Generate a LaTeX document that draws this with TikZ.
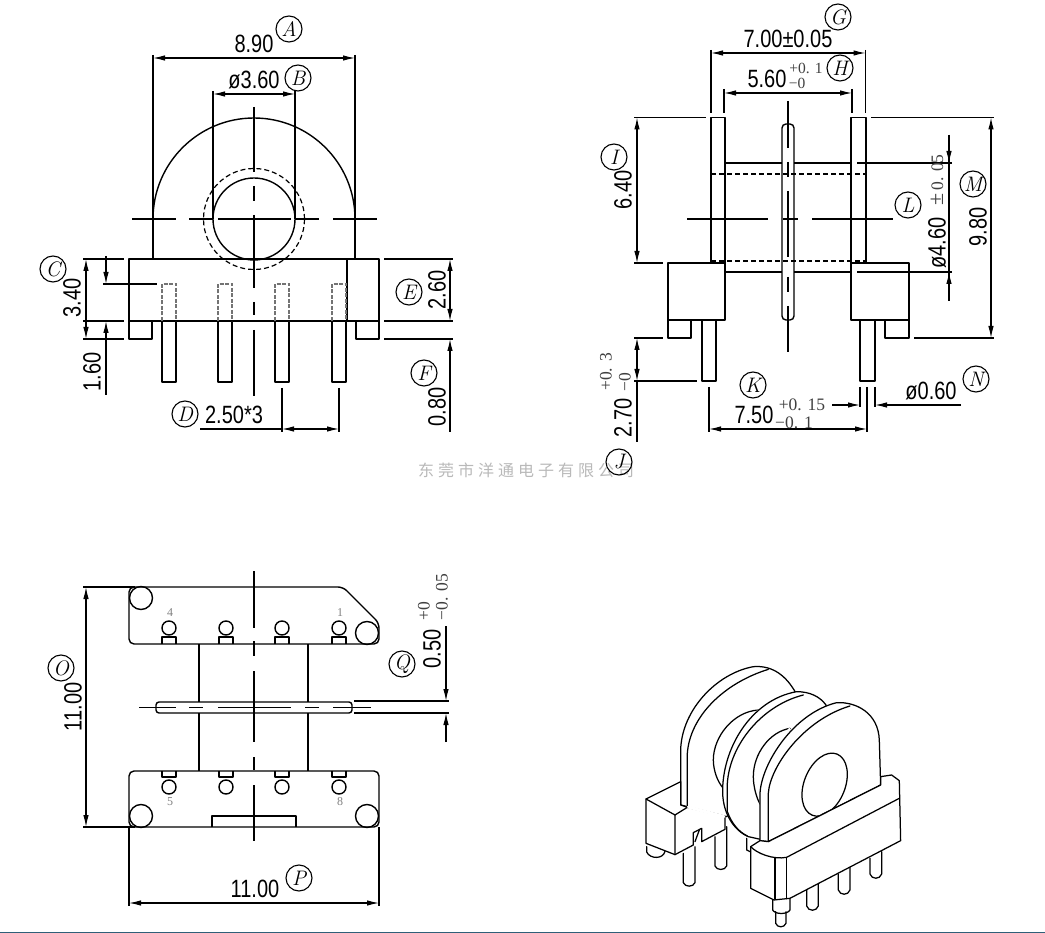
\documentclass[tikz,border=0pt]{standalone}
\usepackage{fontspec}
\usetikzlibrary{arrows.meta}
\newfontfamily\dimf[FakeStretch=0.8]{Liberation Sans}
\newfontfamily\tolf{Liberation Serif}
\newfontfamily\cjkf[LetterSpace=25]{Noto Sans CJK SC}
\definecolor{barblue}{HTML}{2F5F78}
\tikzset{
 obj/.style={line width=1.4pt,line join=round},
 hid/.style={line width=1.2pt,dash pattern=on 5pt off 3pt},
 hidg/.style={line width=1.2pt,black!55,dash pattern=on 4pt off 1.5pt},
 thin line/.style={line width=1.1pt},
 dimline/.style={line width=1.1pt,>={Latex[length=12pt,width=5.5pt]}},
 lbl/.style={circle,draw,line width=1.1pt,minimum size=26pt,inner sep=0pt,font=\fontsize{21}{21}\selectfont\itshape},
 dimt/.style={inner sep=0pt,font=\dimf\fontsize{25}{25}\selectfont},
 dimr/.style={dimt,rotate=90},
 tol/.style={inner sep=0pt,text=black!75,font=\tolf\fontsize{17.5}{17.5}\selectfont},
 tols/.style={tol,font=\tolf\fontsize{15.5}{15.5}\selectfont},
 tolr/.style={tol,rotate=90},
 pinno/.style={inner sep=0pt,text=gray,font=\tolf\fontsize{12}{12}\selectfont},
 iso/.style={line width=1.25pt,line join=round,line cap=round},
}
\begin{document}
\begin{tikzpicture}[x=1pt,y=-1pt]
\useasboundingbox (0,0) rectangle (1045,933);
\fill[white] (0,0) rectangle (1045,933);
\fill[barblue] (0,931.6) rectangle (1045,933);

% ===== View 1 : front =====
\draw[obj] (153,259) -- (153,219) arc[start angle=180,end angle=0,radius=101pt] -- (355,259);
\draw[obj] (254,219) circle[radius=41pt];
\begin{scope}
 \clip (190,150) rectangle (320,270);
 \draw[hid] (254,219) circle[radius=50.5pt];
\end{scope}
\draw[obj] (129,259) rectangle (379,321);
\draw[obj] (347,259) -- (347,321);
\draw[obj] (129,321) -- (129,339) -- (152,339) -- (152,321);
\draw[obj] (356,321) -- (356,339) -- (379,339) -- (379,321);
\foreach \px in {162,218,275,332}{
 \draw[obj] (\px,321) -- (\px,382) -- (\px+14,382) -- (\px+14,321);
 \draw[hidg] (\px,321) -- (\px,284) -- (\px+14,284) -- (\px+14,321);
}
% centre lines
\foreach \a/\b in {107/172,186/201,215/288,302/315,330/396}{\draw[thin line] (254,\a) -- (254,\b);}
\foreach \a/\b in {132/176,189/213,218/291,295/319,333/377}{\draw[thin line] (\a,219) -- (\b,219);}
% dims
\coordinate (a1) at (153,58); \coordinate (a2) at (355,58);
\draw[thin line] (153,55) -- (153,259) (355,55) -- (355,259);
\draw[dimline,<->] (a1) -- (a2);
\node[dimt] (t890) at (254,44) {8.90};
\node[lbl] (lA) at (289,29) {A};
\draw[thin line] (213,91) -- (213,219) (295,91) -- (295,219);
\draw[dimline,<->] (213,94) -- (295,94);
\node[dimt] (t360) at (254,80) {ø3.60};
\node[lbl] (lB) at (298,78) {B};
\draw[thin line] (83,259) -- (124,259) (83,321) -- (124,321) (83,339) -- (124,339) (103,284) -- (157,284);
\draw[dimline,<->] (86,259) -- (86,339);
\draw[dimline,->] (106,256) -- (106,284);
\draw[dimline,->] (106,395) -- (106,321);
\node[dimr] (t340) at (72,298) {3.40};
\node[dimr] (t160) at (92,372) {1.60};
\node[lbl] (lC) at (53,269) {C};
\draw[thin line] (384,259) -- (453,259) (384,321) -- (453,321) (384,339) -- (453,339);
\draw[dimline,<->] (450,259) -- (450,321);
\draw[dimline,->] (450,432) -- (450,339);
\node[dimr] (t260) at (437,290) {2.60};
\node[dimr] (t080) at (437,407) {0.80};
\node[lbl] (lE) at (409,292) {E};
\node[lbl] (lF) at (424,373) {F};
\node[lbl] (lD) at (185,414) {D};
\node[dimt] (t250) at (234,415) {2.50*3};
\draw[thin line] (282,388) -- (282,432) (339,388) -- (339,432) (200,429) -- (282,429);
\draw[dimline,<->] (282,429) -- (339,429);

% ===== View 2 : side =====
\draw[obj] (711,263) -- (711,117.5) -- (725,117.5) -- (725,263);
\draw[obj] (851,263) -- (851,117.5) -- (866,117.5) -- (866,263);
\draw[obj] (725,163) -- (782,163) (794,163) -- (851,163);
\draw[obj] (725,272) -- (782,272) (794,272) -- (851,272);
\draw[obj] (668,263) rectangle (725,320);
\draw[obj] (851,263) rectangle (909,320);
\draw[obj] (668,320) -- (668,338) -- (691,338) -- (691,320);
\draw[obj] (885,320) -- (885,338) -- (909,338) -- (909,320);
\draw[obj] (702,320) -- (702,381) -- (716,381) -- (716,320);
\draw[obj] (860,320) -- (860,381) -- (875,381) -- (875,320);
\draw[obj,rounded corners=4pt] (782,124) rectangle (794,320);
\draw[hid] (711,174) -- (866,174);
\draw[hid] (711,261) -- (866,261);
\foreach \a/\b in {101/148,162/177,191/257,277/292,306/352}{\draw[thin line] (788,\a) -- (788,\b);}
\foreach \a/\b in {687/768,783/798,812/893}{\draw[thin line] (\a,219) -- (\b,219);}
% dims
\draw[thin line] (711,50) -- (711,113) (865.5,50) -- (865.5,113);
\draw[dimline,<->] (711,53) -- (865.5,53);
\node[dimt] (t700) at (788,39) {7.00±0.05};
\node[lbl] (lG) at (838,17) {G};
\draw[thin line] (724,89) -- (724,113) (852,89) -- (852,113);
\draw[dimline,<->] (724,93) -- (852,93);
\node[dimt] (t560) at (767,79) {5.60};
\node[tols] (t560a) at (806,68) {+0. 1};
\node[tols] (t560b) at (797,83) {−0};
\node[lbl] (lH) at (840,68) {H};
\draw[thin line] (634,117.5) -- (706,117.5) (871,117.5) -- (994,117.5);
\draw[thin line] (634,263) -- (663,263) (634,338) -- (663,338) (914,338) -- (994,338) (634,381) -- (697,381);
\draw[dimline,<->] (637,117.5) -- (637,263);
\draw[dimline,<->] (637,338) -- (637,381);
\draw[thin line] (637,381) -- (637,442);
\node[dimr] (t640) at (623,190) {6.40};
\node[lbl] (lI) at (614,157) {I};
\node[dimr] (t270) at (623,418) {2.70};
\node[tolr] (t270a) at (606,372) {+0. 3};
\node[tolr] (t270b) at (625,382) {−0};
\draw[thin line] (857,163) -- (952,163) (857,272) -- (952,272);
\draw[thin line] (949,135) -- (949,301);
\draw[dimline,->] (949,135) -- (949,163);
\draw[dimline,->] (949,301) -- (949,272);
\node[dimr] (t460) at (937,243) {ø4.60};
\node[tolr] (t460a) at (937,180) {\fontsize{22}{22}\selectfont ±\fontsize{17.5}{17.5}\selectfont\,0. 05};
\node[lbl] (lL) at (908,205) {L};
\draw[dimline,<->] (991,117.5) -- (991,338);
\node[dimr] (t980) at (978,227) {9.80};
\node[lbl] (lM) at (973,184) {M};
\draw[thin line] (709,387) -- (709,432) (867,387) -- (867,432) (860,387) -- (860,407) (875,387) -- (875,407);
\draw[dimline,<->] (709,429) -- (867,429);
\node[dimt] (t750) at (754,415) {7.50};
\node[tol] (t750a) at (802,405) {+0. 15};
\node[tol] (t750b) at (794,423) {−0. 1};
\node[lbl] (lK) at (753,385) {K};
\draw[dimline,->] (832,405) -- (860,405);
\draw[dimline,->] (961,405) -- (875,405);
\node[dimt] (t060) at (931,391) {ø0.60};
\node[lbl] (lN) at (976,379) {N};

% watermark
\node[inner sep=0pt,text=gray!55,font=\cjkf\fontsize{16}{16}\selectfont] (wm) at (526,470) {东莞市洋通电子有限公司};
\node[lbl] (lJ) at (619,462) {J};

% ===== View 3 : bottom =====
\draw[obj] (199,644) -- (199,702) (308,644) -- (308,702) (199,713) -- (199,771) (308,713) -- (308,771);
\draw[obj,rounded corners=5pt] (129,587) -- (343,587) -- (379,623) -- (379,644) -- (129,644) -- cycle;
\draw[obj,rounded corners=5pt] (129,771) rectangle (379,827);
\draw[obj,rounded corners=3pt] (156,702) rectangle (352,713);
\draw[obj] (141,598) circle[radius=11.5pt] (367,633) circle[radius=11.5pt];
\draw[obj] (141,816) circle[radius=11.5pt] (367,816) circle[radius=11.5pt];
\foreach \px in {169,226,282,339}{
 \draw[obj] (\px,628) circle[radius=7pt];
 \draw[obj] (\px-7,644) -- (\px-7,637) -- (\px+7,637) -- (\px+7,644);
 \draw[obj] (\px,787) circle[radius=7pt];
 \draw[obj] (\px-7,771) -- (\px-7,777) -- (\px+7,777) -- (\px+7,771);
}
\draw[obj] (212,827) -- (212,816) -- (296,816) -- (296,827);
\node[pinno] (n4) at (170,613) {4};
\node[pinno] (n1) at (340,613) {1};
\node[pinno] (n5) at (170,802) {5};
\node[pinno] (n8) at (340,802) {8};
\foreach \a/\b in {571/628,641/656,671/742,757/770,785/841}{\draw[thin line] (254,\a) -- (254,\b);}
\foreach \a/\b in {139/176,189/203,218/291,305/319,333/371}{\draw[thin line] (\a,707.5) -- (\b,707.5);}
\draw[thin line] (354,701) -- (449,701) (354,713) -- (449,713);
\draw[dimline,->] (446,626) -- (446,701);
\draw[dimline,->] (446,742) -- (446,713);
\node[dimr] (t050) at (432,649) {0.50};
\node[tolr] (t050a) at (424,611) {+0};
\node[tolr] (t050b) at (442,597) {−0. 05};
\node[lbl] (lQ) at (402,664) {Q};
\draw[thin line] (83,587) -- (135,587) (83,827) -- (135,827);
\draw[dimline,<->] (86,587) -- (86,827);
\node[dimr] (t1100a) at (73,707) {11.00};
\node[lbl] (lO) at (61,668) {O};
\draw[thin line] (129,827) -- (129,906) (379,827) -- (379,906);
\draw[dimline,<->] (129,903) -- (379,903);
\node[dimt] (t1100b) at (255,889) {11.00};
\node[lbl] (lP) at (299,878) {P};

% ===== Isometric view =====
\begin{scope}[shift={(630,650)},x=0.3333pt,y=-0.3333pt]
 % back plate
 \draw[iso,fill=white] (152,412) -- (152,300) .. controls (155,180) and (260,70) .. (370,50) .. controls (430,45) and (470,80) .. (497,128) -- (500,300) -- (290,500) -- (172,470) -- (152,465) -- cycle;
 \draw[iso] (172,470) -- (172,310) .. controls (180,200) and (280,100) .. (415,58);
 % left block
 \draw[iso] (50,590) -- (50,606) .. controls (60,628) and (100,628) .. (105,604);
 \draw[iso] (160,610) -- (160,698) .. controls (165,712) and (190,712) .. (195,698) -- (195,590);
 \draw[iso] (255,560) -- (255,648) .. controls (260,662) and (285,662) .. (290,648) -- (290,530);
 \draw[iso,fill=white] (48,447) -- (152,395) -- (152,465) -- (172,472) -- (285,500) -- (285,538) -- (215,575) -- (215,535) -- (190,548) -- (190,585) -- (135,614) -- (48,580) -- cycle;
 \draw[iso] (48,447) -- (135,495) -- (172,472) (135,495) -- (135,614);
 \draw[iso] (195,575) -- (208,540);
 \draw[iso,white,line width=3pt] (175,471) -- (282,500);
 % rear core
 \draw[iso,fill=white] (385,180) .. controls (310,185) and (250,260) .. (250,330) .. controls (250,360) and (262,395) .. (280,415) -- (340,300) -- cycle;
 \draw[iso,white,line width=3pt] (385,182) -- (340,300) -- (282,413);
 % middle plate
 \draw[iso,fill=white] (278,430) .. controls (275,300) and (360,150) .. (500,125) .. controls (540,125) and (570,140) .. (588,165) -- (600,300) -- (400,570) -- (355,560) .. controls (310,540) and (280,490) .. (278,430) -- cycle;
 \draw[iso] (292,485) -- (292,400) .. controls (300,280) and (400,165) .. (520,135);
 \draw[iso] (292,485) .. controls (305,520) and (325,545) .. (352,558);
 \draw[iso] (350,565) -- (350,600) -- (362,606);
 % front core
 \draw[iso,fill=white] (480,235) .. controls (420,245) and (370,310) .. (370,380) .. controls (370,410) and (380,445) .. (390,462) -- (450,350) -- cycle;
 \draw[iso,white,line width=3pt] (478,238) -- (450,350) -- (392,458);
 % front plate
 \draw[iso,fill=white] (390,572) -- (390,430) .. controls (395,340) and (490,190) .. (620,158) .. controls (680,155) and (745,190) .. (748,270) -- (752,405) -- (415,575) -- cycle;
 \draw[iso] (415,575) -- (415,430) .. controls (420,350) and (520,210) .. (660,168);
 \draw[iso] (584,404) ellipse[x radius=20.5pt,y radius=33pt,rotate=-22];
 % pins
 \draw[iso] (530,720) -- (530,768) .. controls (535,785) and (560,785) .. (565,768) -- (565,700);
 \draw[iso] (625,672) -- (625,720) .. controls (630,737) and (655,737) .. (660,720) -- (660,650);
 \draw[iso] (720,625) -- (720,672) .. controls (725,689) and (750,689) .. (755,672) -- (755,605);
 \draw[iso] (437,785) -- (437,820) .. controls (442,834) and (463,834) .. (468,820) -- (468,785);
 \draw[iso] (428,748) -- (428,780) .. controls (435,794) and (473,794) .. (480,780) -- (480,745);
 % base
 \draw[iso,fill=white] (362,590) -- (390,572) -- (415,575) -- (752,405) -- (752,380) -- (785,375) -- (808,392) -- (812,572) -- (480,745) -- (432,750) -- (362,715) -- cycle;
 \draw[iso] (362,590) .. controls (380,610) and (430,630) .. (470,622) -- (808,445);
 \draw[iso] (435,625) -- (435,748) (470,624) -- (470,746);
\end{scope}
\end{tikzpicture}
\end{document}
